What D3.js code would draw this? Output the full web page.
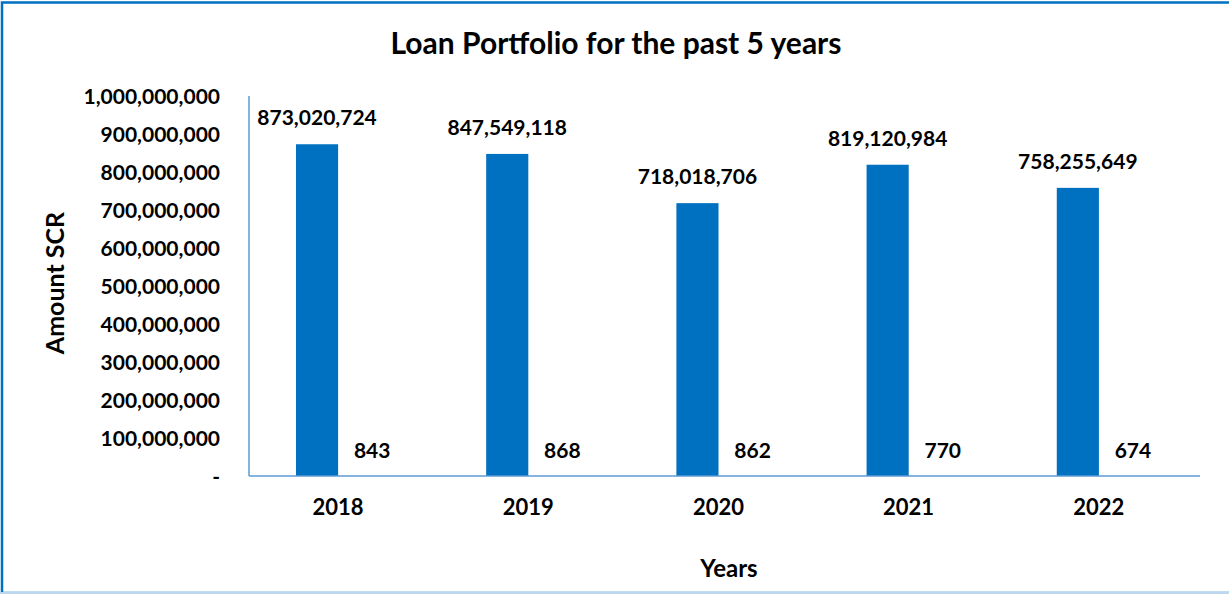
<!DOCTYPE html>
<html>
<head>
<meta charset="utf-8">
<script src="https://cdn.jsdelivr.net/npm/d3@7"></script>
<style>
  html, body { margin: 0; padding: 0; background: #fff; }
  svg text { font-family: Lato, "Open Sans", sans-serif; font-weight: 700; fill: #000; }
</style>
</head>
<body>
<svg id="chart" width="1229" height="594"></svg>
<script>
// Loan portfolio amounts (SCR) and number of loans per year
const years = ["2018", "2019", "2020", "2021", "2022"];
const amounts = [873020724, 847549118, 718018706, 819120984, 758255649];
const loanCounts = [843, 868, 862, 770, 674];
const yTicks = [0, 100000000, 200000000, 300000000, 400000000, 500000000,
                600000000, 700000000, 800000000, 900000000, 1000000000];
const seriesNames = ["Amount", "Loans"];

const svg = d3.select("#chart");
const W = 1229, H = 594;
const plot = { left: 249, right: 1200, top: 96, bottom: 476 };

// outer frame
svg.append("rect")
  .attr("x", 2).attr("y", 2.5)
  .attr("width", W + 10).attr("height", H - 3.5)
  .attr("fill", "none").attr("stroke", "#0070C0").attr("stroke-width", 2.5);
svg.append("line")
  .attr("x1", 0).attr("x2", W).attr("y1", 593).attr("y2", 593)
  .attr("stroke", "#BDD7EE").attr("stroke-width", 2);

const x0 = d3.scaleBand().domain(years).range([plot.left, plot.right]);
const bw = x0.bandwidth();
const x1 = d3.scaleBand().domain(seriesNames).range([bw * 0.247, bw * 0.69]);
const y = d3.scaleLinear().domain([0, 1000000000]).range([plot.bottom, plot.top]);

const fmt = d3.format(",");

// title
svg.append("text")
  .attr("x", 616).attr("y", 54)
  .attr("text-anchor", "middle")
  .style("font-size", "30px")
  .text("Loan Portfolio for the past 5 years");

// y axis tick labels
svg.append("g").selectAll("text")
  .data(yTicks).join("text")
  .attr("x", 220)
  .attr("y", d => y(d) + 7.5)
  .attr("text-anchor", "end")
  .style("font-size", "21px")
  .text(d => d === 0 ? "-" : fmt(d));

// bars: loan amounts
const groups = svg.append("g").selectAll("g")
  .data(years).join("g")
  .attr("transform", d => `translate(${x0(d)},0)`);

groups.append("rect")
  .attr("x", x1("Amount"))
  .attr("width", x1.bandwidth())
  .attr("y", (d, i) => y(amounts[i]))
  .attr("height", (d, i) => plot.bottom - y(amounts[i]))
  .attr("fill", "#0070C0");

// bars: loan counts (vanishingly small on this scale)
groups.append("rect")
  .attr("x", x1("Loans"))
  .attr("width", x1.bandwidth())
  .attr("y", (d, i) => y(loanCounts[i]))
  .attr("height", (d, i) => plot.bottom - y(loanCounts[i]))
  .attr("fill", "#0070C0");

// value labels
groups.append("text")
  .attr("x", x1("Amount") + x1.bandwidth() / 2)
  .attr("y", (d, i) => y(amounts[i]) - 19)
  .attr("text-anchor", "middle")
  .style("font-size", "21px")
  .text((d, i) => fmt(amounts[i]));

groups.append("text")
  .attr("x", x1("Loans") + x1.bandwidth() / 2 + 13)
  .attr("y", (d, i) => y(loanCounts[i]) - 18)
  .attr("text-anchor", "middle")
  .style("font-size", "21px")
  .text((d, i) => fmt(loanCounts[i]));

// axes lines
svg.append("line")
  .attr("x1", plot.left).attr("x2", plot.left)
  .attr("y1", plot.top).attr("y2", plot.bottom)
  .attr("stroke", "#5B9BD5").attr("stroke-width", 1.5);
svg.append("line")
  .attr("x1", plot.left).attr("x2", plot.right)
  .attr("y1", plot.bottom).attr("y2", plot.bottom)
  .attr("stroke", "#5B9BD5").attr("stroke-width", 1.5);

// category labels
svg.append("g").selectAll("text")
  .data(years).join("text")
  .attr("x", d => x0(d) + bw * 0.468)
  .attr("y", 515)
  .attr("text-anchor", "middle")
  .style("font-size", "22px")
  .text(d => d);

// axis titles
svg.append("text")
  .attr("transform", "translate(64,283) rotate(-90)")
  .attr("text-anchor", "middle")
  .style("font-size", "25px")
  .text("Amount SCR");

svg.append("text")
  .attr("x", 729).attr("y", 577)
  .attr("text-anchor", "middle")
  .style("font-size", "24px")
  .text("Years");
</script>
</body>
</html>
